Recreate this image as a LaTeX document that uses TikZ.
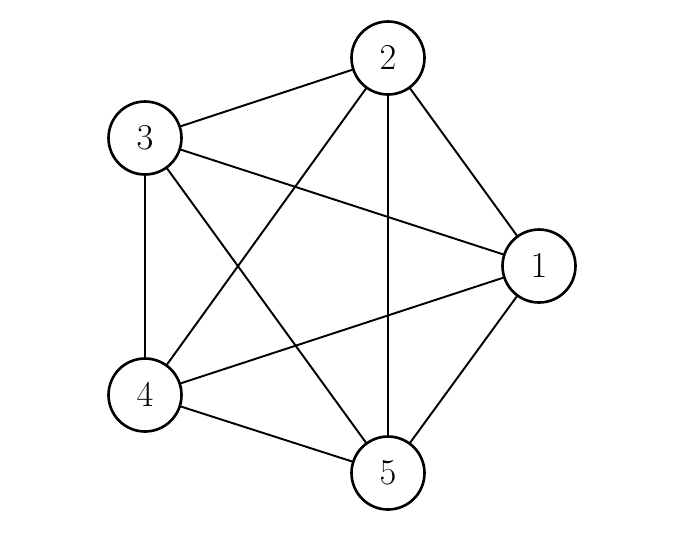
\documentclass[tikz,border=0pt]{standalone}
\usepackage{amsmath}
\usepackage{tikz}
\usetikzlibrary{positioning}
\tikzset{
vertex/.style = {circle, draw, line width=1.5pt, fill=white, minimum size=#1, inner sep=2pt, outer sep=0pt, font=\huge},
vertex/.default = 1.46cm % size of the circle diameter
}
\tikzset{edge/.style={line width=1.1pt}}

\begin{document}
\begin{tikzpicture}[x=0.02cm,y=-0.02cm]
      \useasboundingbox (0,0) rectangle (682,532);
      % pentagon, centre (320,266)
      \node [vertex] (v1) at (539,266) {$1$};
      \node [vertex] (v2) at (388,58) {$2$};
      \node [vertex] (v3) at (145,138) {$3$};
      \node [vertex] (v4) at (145,395) {$4$};
      \node [vertex] (v5) at (388,473) {$5$};
      \foreach \a/\b in {1/2,1/3,1/4,1/5,2/3,2/4,2/5,3/4,3/5,4/5}
        \draw [edge] (v\a) -- (v\b);
\end{tikzpicture}
\end{document}
